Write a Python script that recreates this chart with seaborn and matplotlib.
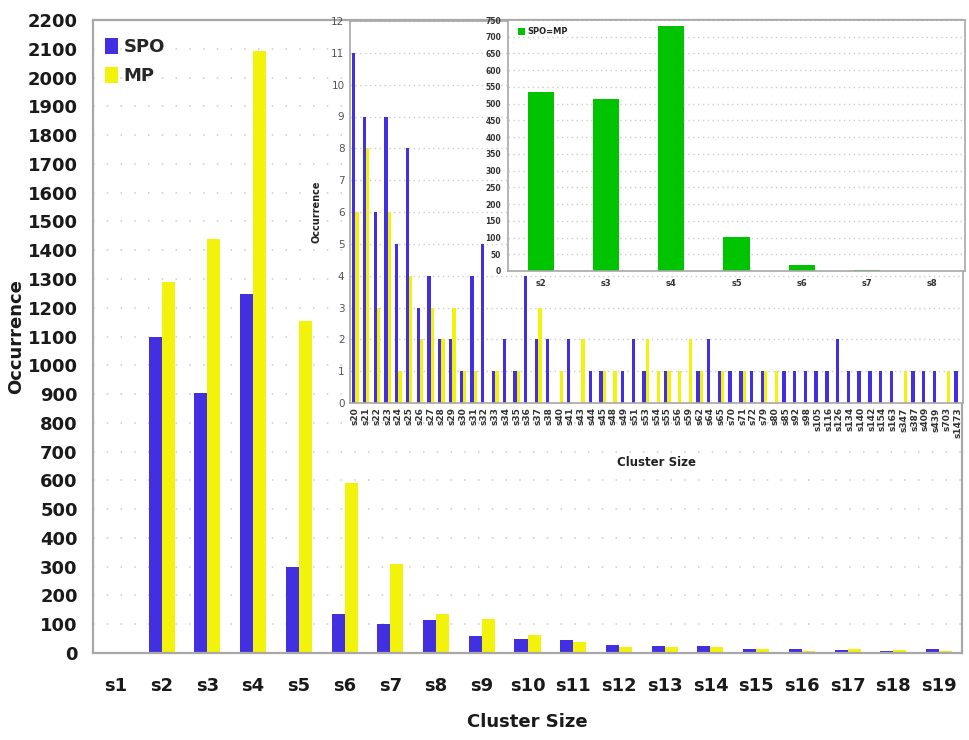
import numpy as np
import pandas as pd
import matplotlib
matplotlib.use("Agg")
import matplotlib.pyplot as plt
import seaborn as sns
from matplotlib.patches import Patch

# ---- data -------------------------------------------------------------
small_sizes = ["s1", "s2", "s3", "s4", "s5", "s6", "s7", "s8", "s9", "s10",
               "s11", "s12", "s13", "s14", "s15", "s16", "s17", "s18", "s19"]
spo_small = [0, 1097, 903, 1246, 299, 134, 101, 116, 58, 49,
             45, 28, 23, 25, 14, 13, 10, 8, 15]
mp_small = [5, 1289, 1438, 2092, 1154, 590, 309, 135, 117, 62,
            38, 22, 21, 21, 15, 8, 15, 10, 7]

large_sizes = ["s20", "s21", "s22", "s23", "s24", "s25", "s26", "s27", "s28", "s29",
               "s30", "s31", "s32", "s33", "s34", "s35", "s36", "s37", "s38", "s40",
               "s41", "s43", "s44", "s45", "s48", "s49", "s51", "s53", "s54", "s55",
               "s56", "s59", "s62", "s64", "s65", "s70", "s71", "s72", "s79", "s80",
               "s85", "s92", "s98", "s105", "s116", "s126", "s134", "s140", "s142", "s154",
               "s163", "s347", "s387", "s409", "s439", "s703", "s1473"]
spo_large = [11, 9, 6, 9, 5, 8, 3, 4, 2, 2,
             1, 4, 5, 1, 2, 1, 4, 2, 2, 0,
             2, 0, 1, 1, 0, 1, 2, 1, 0, 1,
             0, 0, 1, 2, 1, 1, 1, 1, 1, 0,
             1, 1, 1, 1, 1, 2, 1, 1, 1, 1,
             1, 0, 1, 1, 1, 0, 1]
mp_large = [6, 8, 3, 6, 1, 4, 2, 3, 2, 3,
            1, 1, 0, 1, 0, 1, 0, 3, 0, 1,
            0, 2, 0, 1, 1, 0, 0, 2, 1, 1,
            1, 2, 1, 0, 1, 0, 1, 0, 1, 1,
            0, 0, 0, 0, 0, 0, 0, 0, 0, 0,
            0, 1, 0, 0, 0, 1, 0]

equal_sizes = ["s2", "s3", "s4", "s5", "s6", "s7", "s8"]
equal_counts = [535, 514, 733, 102, 19, 4, 1]

series_names = ["SPO", "MP"]
colors = {"SPO": "#4230e0", "MP": "#f2f20a"}
green = "#00c400"
spine_gray = "#a8a8a8"
grid_gray = "#cccccc"


def long_table(cats, spo, mp):
    return pd.DataFrame({
        "size": list(cats) * 2,
        "series": ["SPO"] * len(cats) + ["MP"] * len(cats),
        "count": list(spo) + list(mp),
    })


df_small = long_table(small_sizes, spo_small, mp_small)
df_large = long_table(large_sizes, spo_large, mp_large)
df_equal = pd.DataFrame({"size": equal_sizes, "count": equal_counts})

sns.set_style("white")
plt.rcParams["font.family"] = ["DejaVu Sans"]

W, H = 969, 740
fig = plt.figure(figsize=(W / 100, H / 100), dpi=100)


def frac(left, top, right, bottom):
    return [left / W, 1 - bottom / H, (right - left) / W, (bottom - top) / H]


def style_frame(ax, lw):
    for s in ax.spines.values():
        s.set_visible(True)
        s.set_color(spine_gray)
        s.set_linewidth(lw)


# ---- main chart: clusters s1..s19 -------------------------------------
ax = fig.add_axes(frac(93, 20, 962, 653))
sns.barplot(data=df_small, x="size", y="count", hue="series",
            order=small_sizes, hue_order=series_names, palette=colors,
            width=0.57, saturation=1, linewidth=0, ax=ax)
ax.set_ylim(0, 2200)
ax.set_xlim(-0.5, len(small_sizes) - 0.5)
ax.set_yticks(np.arange(0, 2201, 100))
ax.set_axisbelow(True)
ax.yaxis.grid(True, color=grid_gray, linestyle=(0, (1, 8)), linewidth=1.1)
style_frame(ax, 1.6)
ax.set_xticks(np.arange(-0.5, len(small_sizes), 1), minor=True)
ax.tick_params(axis="x", which="major", length=0, pad=17, labelsize=13)
ax.tick_params(axis="x", which="minor", length=6, color=spine_gray, width=1.2)
ax.tick_params(axis="y", length=5, color=spine_gray, width=1.2, pad=6, labelsize=13)
for lab in ax.get_xticklabels() + ax.get_yticklabels():
    lab.set_fontweight("bold")
    lab.set_color("#1a1a1a")
ax.set_xlabel("Cluster Size", fontsize=13, fontweight="bold", labelpad=13, color="#1a1a1a")
ax.set_ylabel("Occurrence", fontsize=13, fontweight="bold", labelpad=2, color="#1a1a1a")
handles = [Patch(facecolor=colors[s], edgecolor="none") for s in series_names]
ax.legend(handles, series_names, loc="upper left", bbox_to_anchor=(-0.005, 0.997),
          frameon=False, prop={"weight": "bold", "size": 13},
          handlelength=0.75, handleheight=0.95, handletextpad=0.3, labelspacing=0.62)

# ---- inset: clusters s20 and larger -----------------------------------
ax2 = fig.add_axes(frac(350, 21, 963, 403))
ax2.set_facecolor("white")
sns.barplot(data=df_large, x="size", y="count", hue="series",
            order=large_sizes, hue_order=series_names, palette=colors,
            width=0.62, saturation=1, linewidth=0, legend=False, ax=ax2)
ax2.set_ylim(0, 12)
ax2.set_xlim(-0.5, len(large_sizes) - 0.5)
ax2.set_yticks(np.arange(0, 13, 1))
ax2.set_axisbelow(True)
ax2.yaxis.grid(True, color=grid_gray, linestyle=(0, (1, 2.5)), linewidth=1)
style_frame(ax2, 1.2)
ax2.tick_params(axis="x", length=0, pad=3, labelsize=6.5, labelrotation=90)
ax2.tick_params(axis="y", length=2, color=spine_gray, pad=2, labelsize=7.5,
                labelcolor="#555555")
for lab in ax2.get_xticklabels():
    lab.set_fontweight("bold")
    lab.set_color("#333333")
ax2.set_xlabel("Cluster Size", fontsize=8.5, fontweight="bold", labelpad=13, color="#222222")
ax2.set_ylabel("Occurrence", fontsize=7, fontweight="bold", labelpad=7, color="#222222")

# ---- inset: clusters where SPO and MP agree ---------------------------
ax3 = fig.add_axes(frac(508, 20, 965, 271))
ax3.set_facecolor("white")
sns.barplot(data=df_equal, x="size", y="count", order=equal_sizes,
            color=green, width=0.4, saturation=1, linewidth=0, ax=ax3)
ax3.set_ylim(0, 750)
ax3.set_xlim(-0.5, len(equal_sizes) - 0.5)
ax3.set_yticks(np.arange(0, 751, 50))
ax3.set_axisbelow(True)
ax3.yaxis.grid(True, color=grid_gray, linestyle=(0, (1, 2.5)), linewidth=1)
style_frame(ax3, 1.2)
ax3.set_xticks(np.arange(-0.5, len(equal_sizes), 1), minor=True)
ax3.tick_params(axis="x", which="major", length=0, pad=6, labelsize=6)
ax3.tick_params(axis="x", which="minor", length=3, color=spine_gray)
ax3.tick_params(axis="y", length=2, color=spine_gray, pad=3, labelsize=5.5)
for lab in ax3.get_xticklabels() + ax3.get_yticklabels():
    lab.set_fontweight("bold")
    lab.set_color("#333333")
ax3.set_xlabel("")
ax3.set_ylabel("")
ax3.legend([Patch(facecolor=green, edgecolor="none")], ["SPO=MP"],
           loc="upper left", bbox_to_anchor=(0.005, 1.0), frameon=False,
           prop={"weight": "bold", "size": 6}, handlelength=0.9,
           handleheight=0.9, handletextpad=0.3)

fig.savefig("out.png", dpi=100)
